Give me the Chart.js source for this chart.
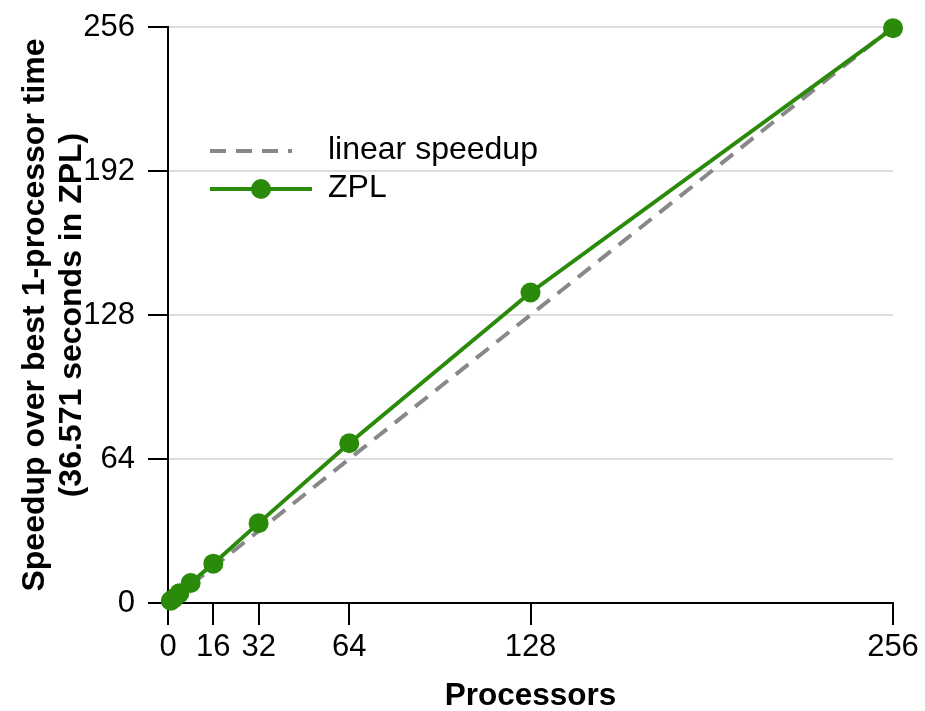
<!DOCTYPE html>
<html lang="en">
<head>
  <meta charset="UTF-8" />
  <title>ZPL Speedup</title>
  <script src="https://cdn.jsdelivr.net/npm/chart.js"></script>
  <style>
    body {
      margin: 0;
      background-color: #ffffff;
    }
  </style>
</head>
<body>
  <canvas id="speedupChart" width="925" height="711"></canvas>

  <script>
    // values
    const processors = [1, 2, 4, 8, 16, 32, 64, 128, 256];
    const zplSpeedup = [1, 2, 4.3, 8.9, 17.5, 35.5, 71, 138, 255.5];
    const linearProcs = [1, 256];
    const linearSpeedup = [1, 256];
    const xTickValues = [0, 16, 32, 64, 128, 256];
    const yTickValues = [0, 64, 128, 192, 256];

    const GREEN = "#2a8a0a";
    const GREY = "#888888";
    const FONT = "'Liberation Sans', Arial, sans-serif";

    function toPoints(xs, ys) {
      return xs.map((x, i) => ({ x: x, y: ys[i] }));
    }

    // legend sits inside the plot, top left
    const insideLegend = {
      id: "insideLegend",
      afterDatasetsDraw(chart) {
        const ctx = chart.ctx;
        ctx.save();
        ctx.lineWidth = 4;
        ctx.strokeStyle = GREY;
        ctx.setLineDash([16, 10]);
        ctx.beginPath();
        ctx.moveTo(210, 151);
        ctx.lineTo(292, 151);
        ctx.stroke();

        ctx.setLineDash([]);
        ctx.strokeStyle = GREEN;
        ctx.beginPath();
        ctx.moveTo(210, 189);
        ctx.lineTo(312, 189);
        ctx.stroke();
        ctx.fillStyle = GREEN;
        ctx.beginPath();
        ctx.arc(261, 189, 10, 0, Math.PI * 2);
        ctx.fill();

        ctx.fillStyle = "#000";
        ctx.font = "32px " + FONT;
        ctx.textBaseline = "middle";
        ctx.fillText("linear speedup", 328, 150);
        ctx.fillText("ZPL", 328, 188);
        ctx.restore();
      }
    };

    new Chart(document.getElementById("speedupChart"), {
      type: "scatter",
      data: {
        datasets: [
          {
            label: "ZPL",
            data: toPoints(processors, zplSpeedup),
            showLine: true,
            borderColor: GREEN,
            backgroundColor: GREEN,
            borderWidth: 4,
            pointRadius: 10,
            pointBorderWidth: 0,
            clip: false
          },
          {
            label: "linear speedup",
            data: toPoints(linearProcs, linearSpeedup),
            showLine: true,
            borderColor: GREY,
            borderWidth: 4,
            borderDash: [16, 10],
            pointRadius: 0,
            clip: false
          }
        ]
      },
      options: {
        responsive: false,
        animation: false,
        layout: { padding: { top: 27, right: 32, left: 0, bottom: 0 } },
        plugins: {
          legend: { display: false },
          tooltip: { enabled: false }
        },
        scales: {
          x: {
            type: "linear",
            min: 0,
            max: 256,
            afterBuildTicks: scale => {
              scale.ticks = xTickValues.map(v => ({ value: v }));
            },
            afterFit: scale => { scale.height = 108; },
            border: { color: "#000", width: 2 },
            grid: { drawOnChartArea: false, tickColor: "#000", tickLength: 22, lineWidth: 2 },
            ticks: { color: "#000", padding: 4, maxRotation: 0, font: { family: FONT, size: 31 } },
            title: {
              display: true,
              text: "Processors",
              color: "#000",
              padding: { top: 0, bottom: -4 },
              font: { family: FONT, size: 31.5, weight: "bold" }
            }
          },
          y: {
            min: 0,
            max: 256,
            afterBuildTicks: scale => {
              scale.ticks = yTickValues.map(v => ({ value: v }));
            },
            afterFit: scale => { scale.width = 168; },
            border: { color: "#000", width: 2 },
            grid: { color: "#dddddd", tickColor: "#000", tickLength: 20, lineWidth: 2 },
            ticks: { color: "#000", padding: 13, font: { family: FONT, size: 31, lineHeight: 0.9 } },
            title: {
              display: true,
              text: ["Speedup over best 1-processor time", "(36.571 seconds in ZPL)"],
              color: "#000",
              padding: { top: 16, bottom: 0 },
              font: { family: FONT, size: 32, weight: "bold", lineHeight: 1.17 }
            }
          }
        }
      },
      plugins: [insideLegend]
    });
  </script>
</body>
</html>
